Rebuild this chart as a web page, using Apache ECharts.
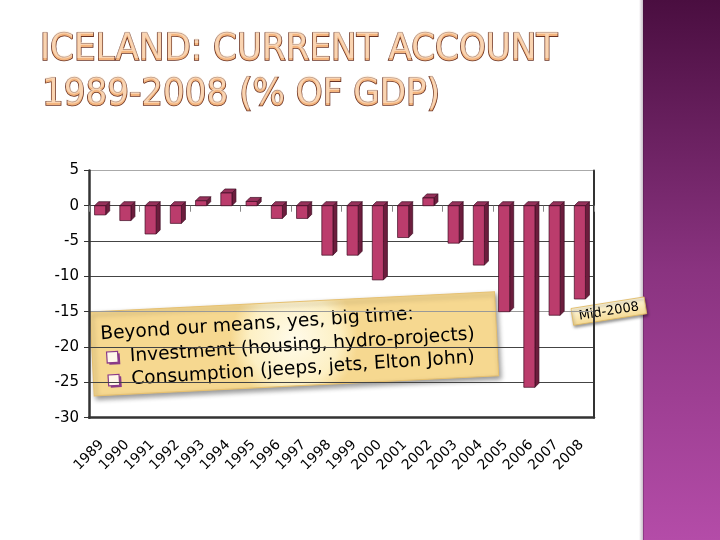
<!DOCTYPE html>
<html>
<head>
<meta charset="utf-8">
<script src="https://cdn.jsdelivr.net/npm/echarts@6/dist/echarts.min.js"></script>
<style>
html,body{margin:0;padding:0;background:#fff;}
#c{width:720px;height:540px;}
</style>
</head>
<body>
<div id="c"></div>
<script>
const categories = ['1989','1990','1991','1992','1993','1994','1995','1996','1997','1998','1999','2000','2001','2002','2003','2004','2005','2006','2007','2008'];
const values = [-1.3,-2.1,-4.0,-2.5,0.7,1.8,0.6,-1.8,-1.8,-7.0,-7.0,-10.5,-4.5,1.1,-5.3,-8.4,-15.0,-25.7,-15.5,-13.2];
const yMin = -30, yMax = 5, yStep = 5;
const titleLines = ['ICELAND: CURRENT ACCOUNT', '1989-2008 (% OF GDP)'];
const noteHeader = 'Beyond our means, yes, big time:';
const noteBullets = ['Investment (housing, hydro-projects)', 'Consumption (jeeps, jets, Elton John)'];
const markerText = 'Mid-2008';

const chart = echarts.init(document.getElementById('c'), null, {renderer:'canvas'});

function renderBar(params, api) {
  const i = api.value(0), v = api.value(1);
  const p = api.coord([i, v]);
  const b = api.coord([i, 0]);
  const band = api.size([1, 0])[0];
  const w = band * 0.44, d = band * 0.16;
  const x0 = p[0] - (w + d) / 2 + 0.5;
  const top = Math.min(p[1], b[1]), bot = Math.max(p[1], b[1]);
  const edge = '#3d0b22';
  return {
    type: 'group',
    children: [
      {type:'polygon', shape:{points:[[x0+w,top],[x0+w+d,top-d],[x0+w+d,bot-d],[x0+w,bot]]},
       style:{fill:'#6c1d3d', stroke:edge, lineWidth:0.7}},
      {type:'polygon', shape:{points:[[x0,top],[x0+d,top-d],[x0+w+d,top-d],[x0+w,top]]},
       style:{fill:'#96315a', stroke:edge, lineWidth:0.7}},
      {type:'rect', shape:{x:x0, y:top, width:w, height:bot-top},
       style:{fill:'#bb3c6c', stroke:edge, lineWidth:0.7}}
    ]
  };
}

const titleFont = '38px "DejaVu Sans Condensed", "DejaVu Sans"';
function titleText(str, x, y) {
  return [
    {type:'text', x: x, y: y, z: 10,
     style:{text: str, font: titleFont, fill: '#f3b47e', stroke: '#6a3223', lineWidth: 1.6,
       textAlign:'left', textVerticalAlign:'middle', align:'left', verticalAlign:'middle'}},
    {type:'text', x: x, y: y - 1.5, z: 11,
     style:{text: str, font: titleFont, fill: 'rgba(255,238,218,0.55)',
       textAlign:'left', textVerticalAlign:'middle', align:'left', verticalAlign:'middle'}}
  ];
}

const noteFont = '18.6px "DejaVu Sans"';
function bullet(x, y) {
  return [
    {type:'rect', shape:{x:x+2, y:y-4, width:11, height:11}, style:{fill:'#8a3a88'}},
    {type:'rect', shape:{x:x, y:y-6, width:11, height:11}, style:{fill:'#fff8ea', stroke:'#8a3a88', lineWidth:1.2}}
  ];
}

const option = {
  backgroundColor: '#ffffff',
  animation: false,
  grid: {left: 89, right: 126, top: 170.4, bottom: 122.3, containLabel: false},
  xAxis: [
    {
      type: 'category', data: categories, position: 'bottom',
      axisLine: {show: true, onZero: false, lineStyle: {color: '#333', width: 2.5}},
      axisTick: {show: false},
      axisLabel: {rotate: 45, interval: 0, margin: 25, color: '#000', fontSize: 14, fontFamily: 'DejaVu Sans'}
    },
    {
      type: 'category', data: categories, position: 'bottom',
      axisLine: {show: true, onZero: true, lineStyle: {color: '#444', width: 1.2}},
      axisTick: {show: true, length: 6, lineStyle: {color: '#888'}},
      axisLabel: {show: false}
    }
  ],
  yAxis: [
    {
      type: 'value', min: yMin, max: yMax, interval: yStep,
      axisLine: {show: true, lineStyle: {color: '#333', width: 2.5}},
      axisTick: {show: true, length: 5, lineStyle: {color: '#333'}},
      axisLabel: {color: '#000', fontSize: 15, fontFamily: 'DejaVu Sans', margin: 10},
      splitLine: {show: true, lineStyle: {color: ['#333','#444','#444','#999','#444','#444','#444','#aaa'], width: 1.2}}
    },
    {
      type: 'value', min: yMin, max: yMax, interval: yStep, position: 'right',
      axisLine: {show: true, lineStyle: {color: '#333', width: 2}},
      axisTick: {show: false}, axisLabel: {show: false}, splitLine: {show: false}
    }
  ],
  series: [{
    type: 'custom',
    xAxisIndex: 0, yAxisIndex: 0,
    renderItem: renderBar,
    encode: {x: 0, y: 1},
    data: values.map((v, i) => [i, v]),
    z: 5
  }],
  graphic: [
    {type:'rect', left: 643, top: 0, shape:{width: 77, height: 540}, z: 0,
     style:{fill: new echarts.graphic.LinearGradient(0,0,0,1,[
       {offset:0,color:'#4a0e40'},{offset:0.5,color:'#8a3380'},{offset:1,color:'#b44ca8'}])}},
    {type:'rect', left: 639, top: 0, shape:{width: 5, height: 540}, z: 0,
     style:{fill: new echarts.graphic.LinearGradient(0,0,1,0,[
       {offset:0,color:'rgba(60,20,60,0)'},{offset:1,color:'rgba(60,20,60,0.35)'}])}},
    ...titleText(titleLines[0], 40, 50),
    ...titleText(titleLines[1], 42, 95),
    {
      type:'group', x: 90, y: 312, rotation: 0.05, z: 20,
      children: [
        {type:'rect', shape:{x:0, y:0, width:405, height:84},
         style:{fill: new echarts.graphic.RadialGradient(0.5,0.45,0.75,[
           {offset:0,color:'#fffbea'},{offset:0.7,color:'#fdf0c4'},{offset:1,color:'#f6d890'}]),
           stroke:'#e6c070', lineWidth:1, shadowBlur:5, shadowColor:'rgba(0,0,0,0.4)', shadowOffsetX:2, shadowOffsetY:3}},
        {type:'group', x: 0, y: 4, rotation: 0.014, children: [
          {type:'text', x: 9, y: 19, style:{text: noteHeader, font: noteFont, fill:'#000',
            textVerticalAlign:'middle', verticalAlign:'middle'}},
          ...bullet(14, 43),
          {type:'text', x: 37, y: 43, style:{text: noteBullets[0], font: noteFont, fill:'#000',
            textVerticalAlign:'middle', verticalAlign:'middle'}},
          ...bullet(14, 66),
          {type:'text', x: 37, y: 66, style:{text: noteBullets[1], font: noteFont, fill:'#000',
            textVerticalAlign:'middle', verticalAlign:'middle'}}
        ]}
      ]
    },
    {
      type:'group', x: 571, y: 308.5, rotation: 0.157, z: 30,
      children: [
        {type:'rect', shape:{x:0, y:0, width:74, height:17},
         style:{fill: new echarts.graphic.LinearGradient(0,0,0,1,[
           {offset:0,color:'#fff8de'},{offset:1,color:'#f5da94'}]),
           stroke:'#e0b860', lineWidth:0.8, shadowBlur:3, shadowColor:'rgba(0,0,0,0.4)', shadowOffsetX:1, shadowOffsetY:2}},
        {type:'text', x: 37, y: 9, style:{text: markerText, font: '13px "DejaVu Sans"', fill:'#000',
          textAlign:'center', align:'center', textVerticalAlign:'middle', verticalAlign:'middle'}}
      ]
    }
  ]
};
chart.setOption(option);
</script>
</body>
</html>
